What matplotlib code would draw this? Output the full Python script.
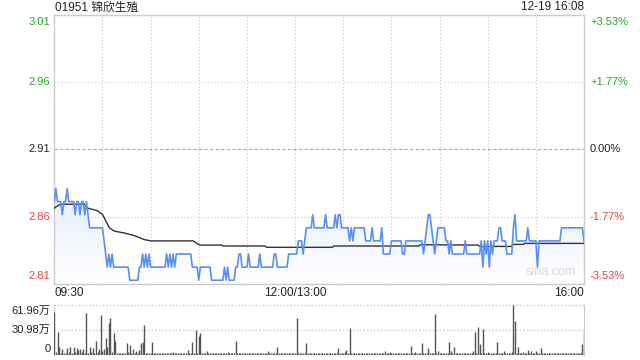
import numpy as np
import matplotlib
matplotlib.use('Agg')
import matplotlib.pyplot as plt
from matplotlib.colors import LinearSegmentedColormap

plt.rcParams['font.family'] = ['Liberation Sans', 'Noto Sans CJK SC', 'DejaVu Sans']

title = '01951 锦欣生殖'
stamp = '12-19 16:08'
prev_close = 2.91
price_labels = ['3.01', '2.96', '2.91', '2.86', '2.81']
pct_labels = ['+3.53%', '+1.77%', '0.00%', '-1.77%', '-3.53%']
pct_vals = [3.53, 1.77, 0.0, -1.77, -3.53]
time_labels = ['09:30', '12:00/13:00', '16:00']
time_pos = [0, 150, 330]
vol_labels = ['61.96万', '30.98万', '0']
vol_vals = [61.96, 30.98, 0]

# price per minute (09:30 .. 16:00, lunch removed)
price = [
    2.87, 2.88, 2.87, 2.87, 2.87, 2.86, 2.87, 2.87, 2.88, 2.87,
    2.87, 2.87, 2.87, 2.86, 2.87, 2.87, 2.86, 2.87, 2.87, 2.86,
    2.87, 2.86, 2.85, 2.85, 2.85, 2.85, 2.85, 2.85, 2.85, 2.85,
    2.85, 2.84, 2.83, 2.82, 2.83, 2.82, 2.83, 2.82, 2.82, 2.82,
    2.82, 2.82, 2.82, 2.82, 2.82, 2.82, 2.82, 2.81, 2.81, 2.81,
    2.81, 2.81, 2.81, 2.82, 2.82, 2.83, 2.82, 2.83, 2.82, 2.83,
    2.82, 2.82, 2.82, 2.82, 2.82, 2.82, 2.82, 2.82, 2.82, 2.82,
    2.83, 2.82, 2.83, 2.82, 2.83, 2.82, 2.83, 2.83, 2.83, 2.83,
    2.83, 2.83, 2.83, 2.83, 2.83, 2.83, 2.82, 2.82, 2.82, 2.82,
    2.81, 2.82, 2.82, 2.82, 2.82, 2.82, 2.82, 2.82, 2.81, 2.81,
    2.81, 2.81, 2.81, 2.81, 2.81, 2.81, 2.82, 2.81, 2.82, 2.81,
    2.81, 2.81, 2.81, 2.82, 2.82, 2.83, 2.83, 2.82, 2.82, 2.82,
    2.82, 2.83, 2.82, 2.82, 2.82, 2.82, 2.82, 2.82, 2.83, 2.82,
    2.82, 2.82, 2.82, 2.82, 2.82, 2.82, 2.82, 2.83, 2.83, 2.82,
    2.82, 2.82, 2.82, 2.82, 2.82, 2.82, 2.83, 2.83, 2.83, 2.83,
    2.83, 2.83, 2.84, 2.84, 2.84, 2.83, 2.84, 2.85, 2.85, 2.85,
    2.85, 2.86, 2.85, 2.85, 2.85, 2.85, 2.85, 2.85, 2.85, 2.86,
    2.85, 2.85, 2.85, 2.85, 2.85, 2.86, 2.85, 2.86, 2.86, 2.85,
    2.85, 2.85, 2.85, 2.85, 2.84, 2.85, 2.84, 2.85, 2.85, 2.85,
    2.85, 2.85, 2.85, 2.85, 2.84, 2.84, 2.84, 2.84, 2.85, 2.84,
    2.84, 2.84, 2.84, 2.84, 2.85, 2.83, 2.83, 2.83, 2.83, 2.83,
    2.84, 2.84, 2.84, 2.84, 2.84, 2.84, 2.84, 2.83, 2.83, 2.84,
    2.84, 2.84, 2.84, 2.84, 2.84, 2.84, 2.84, 2.84, 2.84, 2.84,
    2.83, 2.84, 2.85, 2.86, 2.86, 2.85, 2.84, 2.83, 2.84, 2.85,
    2.85, 2.85, 2.85, 2.85, 2.84, 2.84, 2.83, 2.84, 2.83, 2.83,
    2.83, 2.83, 2.83, 2.83, 2.83, 2.83, 2.84, 2.83, 2.83, 2.83,
    2.83, 2.83, 2.83, 2.83, 2.83, 2.83, 2.84, 2.82, 2.84, 2.83,
    2.84, 2.82, 2.84, 2.83, 2.84, 2.84, 2.84, 2.85, 2.85, 2.84,
    2.84, 2.84, 2.83, 2.83, 2.83, 2.83, 2.85, 2.86, 2.84, 2.84,
    2.84, 2.84, 2.84, 2.84, 2.84, 2.85, 2.84, 2.84, 2.84, 2.84,
    2.84, 2.82, 2.84, 2.84, 2.84, 2.84, 2.84, 2.84, 2.84, 2.84,
    2.84, 2.84, 2.84, 2.84, 2.84, 2.84, 2.85, 2.85, 2.85, 2.85,
    2.85, 2.85, 2.85, 2.85, 2.85, 2.85, 2.85, 2.85, 2.85, 2.85,
    2.84,
]

# average price line, read at turning points (minute, price)
avg_minute = [0, 1, 4, 18.7, 20.8, 27, 30.1, 32.2, 34.3, 37.4, 43.7, 49.9, 56.1, 60.3,
              86.5, 89.6, 90.7, 104.2, 105.2, 131.2, 132.3, 173.1, 174.2, 227.2, 228.2,
              263.9, 265, 284.7, 285.7, 292, 293, 330]
avg_price = [2.865, 2.866, 2.868, 2.868, 2.865, 2.863, 2.860, 2.855, 2.850, 2.8475, 2.846,
             2.844, 2.841, 2.840, 2.840, 2.8375, 2.8368, 2.8368, 2.8361, 2.8361, 2.8351,
             2.8351, 2.8361, 2.8361, 2.8371, 2.8368, 2.8358, 2.8358, 2.8373, 2.8373,
             2.8381, 2.8381]

# volume per minute, in 万
volume = [
    53.6, 4, 28.9, 10, 3, 7, 2, 3, 9, 4,
    10, 3, 10, 4, 9, 6, 8, 4, 7, 3,
    52.4, 3, 10, 4, 9, 3, 17.7, 4, 8, 49.6,
    5, 8, 20.6, 10, 40, 45.4, 4, 27.7, 17.7, 3,
    2, 3, 2, 3, 2, 14.5, 4, 12, 3, 8,
    3, 5, 2, 6, 15, 16, 37.2, 3, 2, 3,
    2, 16, 2, 3, 2, 3, 2, 2, 3, 2,
    2, 3, 2, 2, 4, 2, 3, 2, 3, 2,
    2, 2, 3, 6, 2, 3, 16, 2, 31, 3,
    23.5, 27.7, 3, 2, 2, 5, 2, 2, 3, 2,
    2, 3, 2, 2, 3, 2, 2, 2, 4, 3,
    2, 2, 2, 17.3, 2, 2, 3, 2, 2, 2,
    2, 2.5, 2, 2, 3, 2, 2, 2, 3, 2,
    2, 2, 2, 5, 2, 2, 2, 2, 2, 10,
    2, 2, 2, 2, 2, 2, 2, 2, 2, 2,
    2, 45.4, 2, 2, 2.5, 2, 2, 14.5, 3, 2,
    3, 2, 2, 3, 2, 3, 2, 2, 3, 2,
    2, 3, 2, 2, 3, 2, 2, 9, 2, 3,
    2, 4, 6, 2, 33, 2, 2, 2, 2, 2,
    2, 2, 2, 2, 2, 2, 2, 2, 2, 2,
    2, 2, 2, 2, 2, 2, 5, 2, 2, 3.5,
    2, 2, 2, 2, 2, 2, 2, 2, 3, 2,
    2, 2, 11.6, 2, 2, 3.5, 2, 2, 2, 15,
    2, 2, 2, 9, 2, 2, 2, 50.8, 2, 5,
    2, 2, 2, 2, 2, 2, 16, 5, 2, 10,
    2, 2, 2, 2, 2, 2, 3, 2, 2, 2,
    2, 5, 28.1, 2, 35, 13.8, 2, 32, 2, 2,
    3.5, 2, 2, 2, 2, 2, 16, 2, 2, 2,
    5, 2, 2, 2, 2, 4, 61.96, 42, 2, 10,
    2, 2, 3.5, 2, 2, 6, 2, 5, 2, 2,
    5, 2, 2, 9, 2, 2, 2, 2, 2, 2,
    2, 2, 2, 2, 2, 2, 2, 2, 2, 2,
    2, 2, 2, 2, 2, 2, 2, 2, 3, 14,
    27,
]

GREEN = '#29a829'
RED = '#f0403c'
DARK = '#222222'
GRID = '#c8c8c8'
BORDER = '#cccccc'

minutes = np.arange(len(price))
vmin = np.arange(len(volume))
lo = prev_close * (1 - 0.0353)
hi = prev_close * (1 + 0.0353)
W, H = 640, 360
L, R = 54.3, 584.0
T1, B1 = 14.5, 283.8
T2, B2 = 305.0, 355.0

fig = plt.figure(figsize=(6.4, 3.6), dpi=100)
fig.patch.set_facecolor('white')
ax = fig.add_axes([L / W, 1 - B1 / H, (R - L) / W, (B1 - T1) / H])
vx = fig.add_axes([L / W, 1 - B2 / H, (R - L) / W, (B2 - T2) / H])

# ---- price panel ----
ax.set_xlim(0, 330)
ax.set_ylim(lo, hi)
for s in ax.spines.values():
    s.set_color(BORDER)
    s.set_linewidth(1)
ax.set_xticks([])
ax.set_yticks([])
for m in range(30, 330, 30):
    ax.axvline(m, color=GRID, lw=0.8, ls=(0, (1, 2)), zorder=1)
for p in pct_vals:
    y = prev_close * (1 + p / 100)
    if p == 0:
        ax.axhline(y, color='#aaaaaa', lw=0.8, ls=(0, (3, 2)), zorder=1)
    elif abs(p) < 3:
        ax.axhline(y, color=GRID, lw=0.8, ls=(0, (1, 2)), zorder=1)

# gradient fill under price line
poly = ax.fill_between(minutes, price, lo, color='none', lw=0)
cmap = LinearSegmentedColormap.from_list('g', ['#ffffff', '#e4edfb'])
grad = np.linspace(0, 1, 256).reshape(-1, 1)
im = ax.imshow(grad, extent=[0, 330, lo, max(price)], origin='lower', aspect='auto',
               cmap=cmap, zorder=2)
im.set_clip_path(poly.get_paths()[0], transform=ax.transData)
ax.set_xlim(0, 330)
ax.set_ylim(lo, hi)

ax.plot(avg_minute, avg_price, color='#333333', lw=1.0, zorder=3)
ax.plot(minutes, price, color='#5b8ff2', lw=1.2, zorder=4)

ax.text(0.985, 0.02, 'sina.com', transform=ax.transAxes, ha='right', va='bottom',
        fontsize=9, color='#d9d9d9', zorder=5)

# axis labels
cols = [GREEN, GREEN, DARK, RED, RED]
for i, (pl, ql, p) in enumerate(zip(price_labels, pct_labels, pct_vals)):
    y = prev_close * (1 + p / 100)
    va = 'center'
    if i == 0:
        va = 'top'
    elif i == len(pct_vals) - 1:
        va = 'bottom'
    yy = y
    if i == 0:
        yy = y - 0.002
    if i == len(pct_vals) - 1:
        yy = y + 0.002
    ax.text(-4 / (R - L) * 330, yy, pl, ha='right', va=va, fontsize=8, color=cols[i])
    ax.text(330 + 6 / (R - L) * 330, yy, ql, ha='left', va=va, fontsize=8, color=cols[i])

fig.text(L / W + 0.001, 1 - 7.5 / H, title, ha='left', va='center', fontsize=8.5, color=DARK)
fig.text(R / W, 1 - 7.5 / H, stamp, ha='right', va='center', fontsize=8.5, color=DARK)

# time labels
ty = 1 - 293.5 / H
for lab, pos in zip(time_labels, time_pos):
    xf = (L + (R - L) * pos / 330) / W
    ha = 'left' if pos == 0 else ('right' if pos == 330 else 'center')
    fig.text(xf, ty, lab, ha=ha, va='center', fontsize=8.5, color=DARK)

# ---- volume panel ----
vx.set_xlim(0, 330)
vx.set_ylim(0, max(vol_vals))
vx.vlines(vmin, 0, volume, colors='#555555', lw=1.0, zorder=3)
vx.set_xticks([])
vx.set_yticks([])
vx.spines['top'].set_visible(False)
vx.spines['bottom'].set_visible(False)
vx.spines['left'].set_color(BORDER)
vx.spines['right'].set_color(BORDER)
for v in vol_vals[:2]:
    vx.axhline(v, color=GRID, lw=1.0, ls=(0, (1, 1.5)), zorder=1, clip_on=False)
for i, (lab, v) in enumerate(zip(vol_labels, vol_vals)):
    va = 'top' if i == 0 else ('bottom' if i == 2 else 'center')
    yy = v - 1.5 if i == 0 else (v + 1.0 if i == 2 else v)
    vx.text(-4 / (R - L) * 330, yy, lab, ha='right', va=va, fontsize=8, color=DARK)

fig.savefig('out.png', dpi=100, facecolor='white')
